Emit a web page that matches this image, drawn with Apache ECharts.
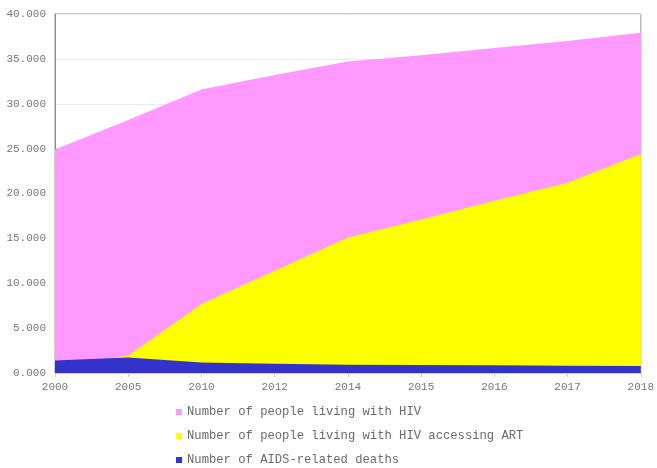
<!DOCTYPE html>
<html>
<head>
<meta charset="utf-8">
<script src="https://cdn.jsdelivr.net/npm/echarts@6/dist/echarts.min.js"></script>
<style>
  html, body { margin: 0; padding: 0; background: #ffffff; }
  #chart { width: 657px; height: 468px; }
</style>
</head>
<body>
<div id="chart"></div>
<script>
// Years on the category axis
const years = ['2000', '2005', '2010', '2012', '2014', '2015', '2016', '2017', '2018'];

// Values in millions
const peopleLivingWithHIV = [24.9, 28.2, 31.6, 33.2, 34.7, 35.4, 36.2, 37.0, 37.9];
const accessingART = [0.6, 1.96, 7.7, 11.4, 15.1, 17.1, 19.2, 21.2, 24.4];
const aidsDeaths = [1.4, 1.74, 1.18, 1.04, 0.92, 0.89, 0.85, 0.81, 0.77];

const seriesNames = [
  'Number of people living with HIV',
  'Number of people living with HIV accessing ART',
  'Number of AIDS-related deaths'
];
const seriesColors = ['#FF99FF', '#FFFF00', '#3333CC'];

const monoFont = '"Liberation Mono", "DejaVu Sans Mono", monospace';

function areaSeries(name, data, color) {
  return {
    name: name,
    type: 'line',
    data: data,
    symbol: 'none',
    showSymbol: false,
    lineStyle: { width: 0, color: color },
    itemStyle: { color: color },
    areaStyle: { color: color, opacity: 1 },
    emphasis: { disabled: true },
    animation: false
  };
}

const chart = echarts.init(document.getElementById('chart'), null, { renderer: 'canvas' });

chart.setOption({
  backgroundColor: '#ffffff',
  animation: false,
  grid: {
    left: 55,
    right: 14,
    top: 14,
    bottom: 95,
    show: true,
    borderColor: '#9a9a9a',
    borderWidth: 1,
    backgroundColor: 'transparent'
  },
  legend: {
    orient: 'vertical',
    left: 176,
    top: 405,
    height: 63,
    padding: 0,
    itemWidth: 6,
    itemHeight: 6,
    itemGap: 10,
    icon: 'rect',
    data: seriesNames,
    textStyle: {
      fontFamily: monoFont,
      fontSize: 12.2,
      lineHeight: 14,
      color: '#6a6a6a'
    }
  },
  xAxis: {
    type: 'category',
    data: years,
    boundaryGap: false,
    axisLine: { show: true, lineStyle: { color: '#d0d0e6', width: 1 } },
    axisTick: { show: true, length: 4, alignWithLabel: true, lineStyle: { color: '#d0d0e6' } },
    axisLabel: {
      fontFamily: monoFont,
      fontSize: 11,
      color: '#777777',
      margin: 9,
      interval: 0
    },
    splitLine: { show: false }
  },
  yAxis: {
    type: 'value',
    min: 0,
    max: 40,
    interval: 5,
    axisLine: { show: true, lineStyle: { color: '#8c8c8c', width: 1 } },
    axisTick: { show: false },
    axisLabel: {
      fontFamily: monoFont,
      fontSize: 11,
      color: '#777777',
      margin: 9,
      formatter: function (v) { return v.toFixed(3); }
    },
    splitLine: { show: true, lineStyle: { color: '#ebebeb', width: 1 } }
  },
  series: [
    areaSeries(seriesNames[0], peopleLivingWithHIV, seriesColors[0]),
    areaSeries(seriesNames[1], accessingART, seriesColors[1]),
    areaSeries(seriesNames[2], aidsDeaths, seriesColors[2])
  ]
});
</script>
</body>
</html>
